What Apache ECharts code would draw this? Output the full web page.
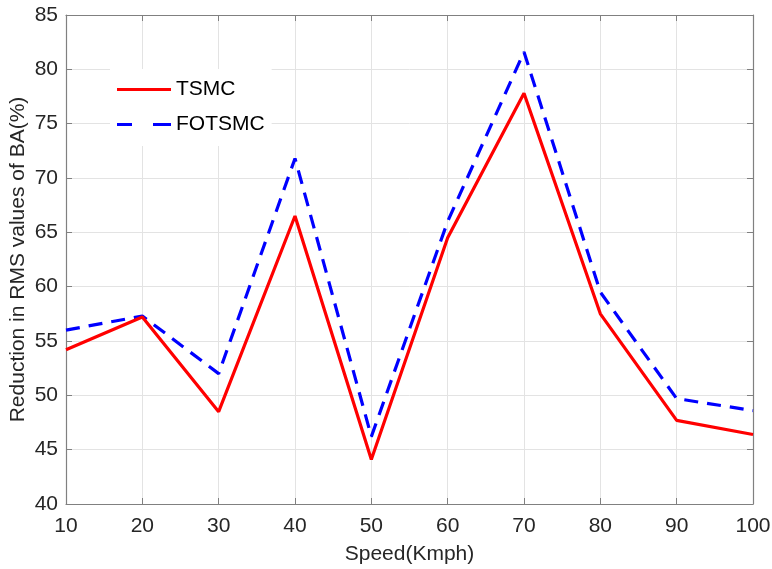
<!DOCTYPE html>
<html><head><meta charset="utf-8">
<script src="https://cdn.jsdelivr.net/npm/echarts@6/dist/echarts.min.js"></script>
<style>html,body{margin:0;padding:0;background:#fff}#c{width:772px;height:569px}</style>
</head><body><div id="c"></div>
<script>
const speeds = [10, 20, 30, 40, 50, 60, 70, 80, 90, 100];
const tsmc = [54.2, 57.2, 48.5, 66.5, 44.1, 64.5, 77.8, 57.5, 47.7, 46.4];
const fotsmc = [56.0, 57.3, 52.0, 71.8, 46.2, 66.0, 81.6, 59.5, 49.7, 48.6];
const seriesNames = ['TSMC', 'FOTSMC'];
const xTitle = 'Speed(Kmph)';
const yTitle = 'Reduction in RMS values of BA(%)';

const font = 'Liberation Sans, Arial, sans-serif';
const axisCol = '#262626';
const chart = echarts.init(document.getElementById('c'), null, {renderer: 'canvas'});
const pair = a => speeds.map((s, i) => [s, a[i]]);
const edge = {show: true, onZero: false, lineStyle: {color: '#808080', width: 1.2}};
const tick = {show: true, inside: true, length: 6, lineStyle: {color: '#808080'}};
const icons = [
  'path://M0,0h54v3h-54z',
  'path://M0,0h15v3h-15z M36,0h18v3h-18z'
];
chart.setOption({
  animation: false,
  grid: {left: 66, right: 19, top: 15, bottom: 65, show: false, containLabel: false, outerBoundsMode: 'none'},
  legend: {
    orient: 'vertical', left: 110, top: 69, itemWidth: 54, itemHeight: 3.2, itemGap: 14,
    textStyle: {fontFamily: font, fontSize: 21, color: '#000'},
    backgroundColor: '#fff', padding: [10, 7, 11, 7],
    data: seriesNames.map((n, i) => ({name: n, icon: icons[i]}))
  },
  xAxis: [{
    type: 'value', min: 10, max: 100, interval: 10,
    name: xTitle, nameLocation: 'middle', nameGap: 40, nameMoveOverlap: false,
    nameTextStyle: {fontFamily: font, fontSize: 21, color: axisCol},
    axisLine: edge, axisTick: tick,
    axisLabel: {fontFamily: font, fontSize: 21, color: axisCol, margin: 12},
    splitLine: {show: true, lineStyle: {color: '#e3e3e3', width: 1}}
  }, {
    type: 'value', min: 10, max: 100, interval: 10, position: 'top',
    axisLine: edge, axisTick: tick, axisLabel: {show: false}, splitLine: {show: false}
  }],
  yAxis: [{
    type: 'value', min: 40, max: 85, interval: 5,
    name: yTitle, nameLocation: 'middle', nameGap: 37, nameMoveOverlap: false,
    nameTextStyle: {fontFamily: font, fontSize: 21, color: axisCol},
    axisLine: edge, axisTick: tick,
    axisLabel: {fontFamily: font, fontSize: 21, color: axisCol, margin: 8},
    splitLine: {show: true, lineStyle: {color: '#e3e3e3', width: 1}}
  }, {
    type: 'value', min: 40, max: 85, interval: 5, position: 'right',
    axisLine: edge, axisTick: tick, axisLabel: {show: false}, splitLine: {show: false}
  }],
  series: [{
    name: seriesNames[0], type: 'line', data: pair(tsmc), symbol: 'none',
    lineStyle: {color: '#ff0000', width: 3.2}, itemStyle: {color: '#ff0000'}, z: 3
  }, {
    name: seriesNames[1], type: 'line', data: pair(fotsmc), symbol: 'none',
    lineStyle: {color: '#0000ff', width: 3.2, type: [14, 9]}, itemStyle: {color: '#0000ff'}, z: 2
  }]
});
</script></body></html>
